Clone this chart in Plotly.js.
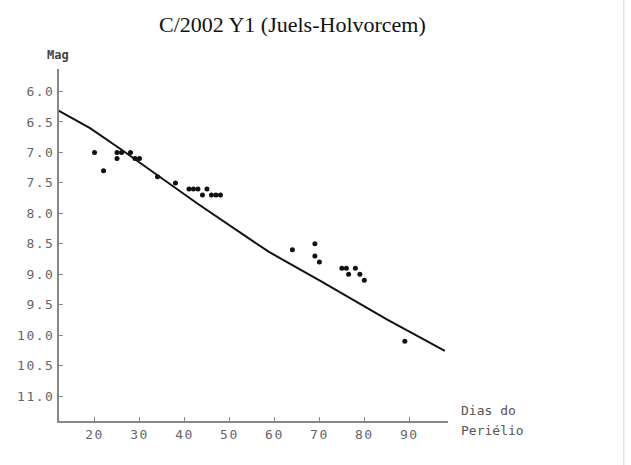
<!DOCTYPE html>
<html>
<head>
<meta charset="utf-8">
<script src="https://cdn.plot.ly/plotly-3.0.1.min.js"></script>
<style>
html, body { margin: 0; padding: 0; background: #fff; }
#chart { width: 631px; height: 465px; }
.xtick text, .ytick text { letter-spacing: 1.5px; }
</style>
</head>
<body>
<div id="chart"></div>
<script>
// Observed magnitudes (days from perihelion, magnitude)
const obsDays = [20, 22, 25, 25, 26, 28, 29, 30, 34, 38, 41, 42, 43, 44, 45, 46, 47, 48, 64, 69, 69, 70, 75, 76, 76.5, 78, 79, 80, 89];
const obsMags = [7.0, 7.3, 7.1, 7.0, 7.0, 7.0, 7.1, 7.1, 7.4, 7.5, 7.6, 7.6, 7.6, 7.7, 7.6, 7.7, 7.7, 7.7, 8.6, 8.5, 8.7, 8.8, 8.9, 8.9, 9.0, 8.9, 9.0, 9.1, 10.1];

// Fitted light curve
const modelDays = [11.7, 19.0, 26.1, 33.5, 43.1, 58.7, 70.5, 85.0, 97.9];
const modelMags = [6.30, 6.60, 6.96, 7.35, 7.85, 8.63, 9.12, 9.74, 10.26];

// Axis ticks
const xTickVals = [20, 30, 40, 50, 60, 70, 80, 90];
const yTickVals = [6.0, 6.5, 7.0, 7.5, 8.0, 8.5, 9.0, 9.5, 10.0, 10.5, 11.0];
const yTickText = yTickVals.map(v => v.toFixed(1));

const monoFont = { family: 'DejaVu Sans Mono, Liberation Mono, monospace', size: 13, color: '#666' };

const traces = [
  {
    x: modelDays, y: modelMags, type: 'scatter', mode: 'lines',
    line: { color: '#111', width: 2, shape: 'linear' },
    hoverinfo: 'skip', showlegend: false
  },
  {
    x: obsDays, y: obsMags, type: 'scatter', mode: 'markers',
    marker: { color: '#111', size: 5, symbol: 'circle' },
    showlegend: false
  }
];

const layout = {
  width: 631, height: 465,
  margin: { l: 59, r: 183, t: 69, b: 44 },
  paper_bgcolor: '#fff', plot_bgcolor: '#fff',
  showlegend: false,
  title: {
    text: 'C/2002 Y1 (Juels-Holvorcem)',
    font: { family: 'Liberation Serif, Times New Roman, serif', size: 22, color: '#111' },
    x: 0.6, xref: 'paper', xanchor: 'center',
    y: 0.948, yref: 'container', yanchor: 'middle'
  },
  xaxis: {
    range: [12.1, 98.6],
    tickmode: 'array', tickvals: xTickVals,
    ticks: 'inside', ticklen: 4, tickwidth: 1, tickcolor: '#888',
    showline: true, linecolor: '#888', linewidth: 2,
    showgrid: false, zeroline: false,
    tickfont: monoFont
  },
  yaxis: {
    range: [11.41, 5.63],
    tickmode: 'array', tickvals: yTickVals, ticktext: yTickText,
    ticks: 'inside', ticklen: 4, tickwidth: 1, tickcolor: '#888',
    showline: true, linecolor: '#888', linewidth: 2,
    showgrid: false, zeroline: false,
    tickfont: monoFont
  },
  annotations: [
    { text: 'Mag', xref: 'paper', yref: 'paper', x: -0.003, y: 1.04,
      xanchor: 'center', yanchor: 'middle', showarrow: false,
      font: { family: 'DejaVu Sans Mono, monospace', size: 12, color: '#444', weight: 'bold' } },
    { text: 'Dias do', xref: 'paper', yref: 'paper', x: 1.028, y: 0.031,
      xanchor: 'left', yanchor: 'middle', showarrow: false,
      font: { family: 'DejaVu Sans Mono, monospace', size: 13, color: '#555' } },
    { text: 'Periélio', xref: 'paper', yref: 'paper', x: 1.028, y: -0.028,
      xanchor: 'left', yanchor: 'middle', showarrow: false,
      font: { family: 'DejaVu Sans Mono, monospace', size: 13, color: '#555' } }
  ],
  shapes: [
    { type: 'line', xref: 'paper', yref: 'paper', x0: 1.452, x1: 1.452, y0: -0.13, y1: 1.2,
      line: { color: '#ddd', width: 1 } }
  ]
};

Plotly.newPlot('chart', traces, layout, { staticPlot: true, displayModeBar: false });
</script>
</body>
</html>
